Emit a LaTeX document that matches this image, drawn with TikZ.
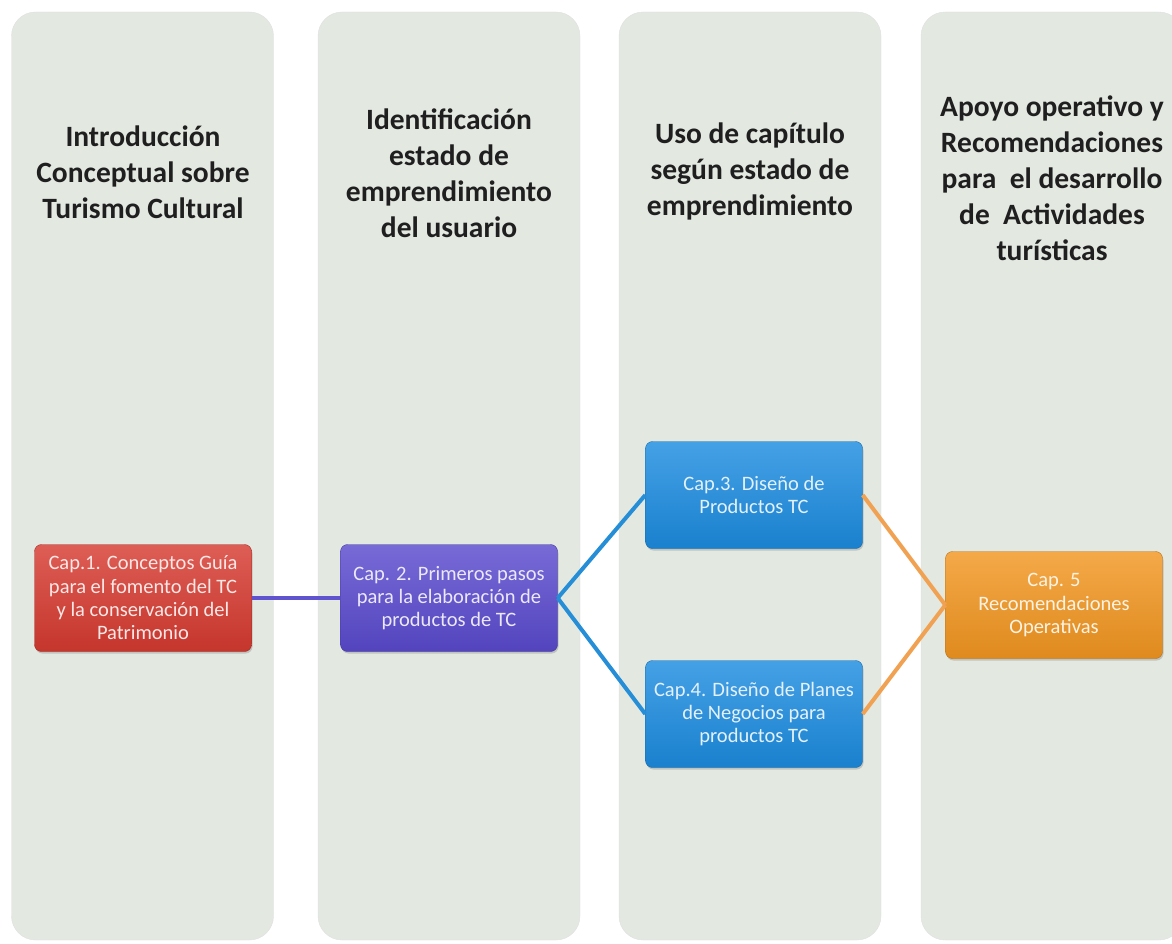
\documentclass[tikz,border=0pt]{standalone}
\usepackage{fontspec}
\setmainfont{Carlito}
\usetikzlibrary{shadows}

\definecolor{lanegray}{RGB}{227,232,225}
\definecolor{capred}{RGB}{214,58,48}
\definecolor{cappurple}{RGB}{90,74,206}
\definecolor{capblue}{RGB}{28,140,224}
\definecolor{caporange}{RGB}{242,150,32}
\definecolor{linkpurple}{RGB}{96,84,206}
\definecolor{linkblue}{RGB}{38,142,214}
\definecolor{linkorange}{RGB}{240,162,82}

\begin{document}
\begin{tikzpicture}
        [x=1pt,y=-1pt,
         lane/.style={rectangle,rounded corners=24pt,fill=lanegray,draw=black!12,
           minimum width=262pt,minimum height=928pt},
         lanetitle/.style={align=center,text=black!88,
           font=\bfseries\fontsize{29.5}{36}\selectfont},
         cap/.style={rectangle,rounded corners=7pt,minimum width=217pt,minimum height=107pt,
           align=center,text=#1!12!white,font=\fontsize{20.5}{23.3}\selectfont,
           draw=#1!75!black,top color=#1!82!white,bottom color=#1!92!black,
           drop shadow={shadow xshift=1pt,shadow yshift=-2pt,opacity=.35}},
         link/.style={line width=4pt,draw=#1}]
        \useasboundingbox (0,0) rectangle (1172,944);

        \foreach \i/\x in {1/142.5, 2/449, 3/750, 4/1052}
            \node[lane] (lane\i) at (\x,476) {};

        \node[lanetitle] (title1) at (143,172) {Introducción\\Conceptual sobre\\Turismo Cultural};
        \node[lanetitle] (title2) at (449,173) {Identificación\\estado de\\emprendimiento\\del usuario};
        \node[lanetitle] (title3) at (750,171) {Uso de capítulo\\según estado de\\emprendimiento};
        \node[lanetitle] (title4) at (1052,178) {Apoyo operativo y\\Recomendaciones\\para\ \ el desarrollo\\de\ \ Actividades\\turísticas};

        \node[cap=capred] (cap1) at (143,598) {Cap.1. Conceptos Guía\\para el fomento del TC\\y la conservación del\\Patrimonio};
        \node[cap=cappurple] (cap2) at (449,598) {Cap. 2. Primeros pasos\\para la elaboración de\\productos de TC};
        \node[cap=capblue] (cap3) at (754,495) {Cap.3. Diseño de\\Productos TC};
        \node[cap=capblue] (cap4) at (754,714) {Cap.4. Diseño de Planes\\de Negocios para\\productos TC};
        \node[cap=caporange] (cap5) at (1054,605) {Cap. 5\\Recomendaciones\\Operativas};

        \foreach \from/\to/\col in {cap1/cap2/linkpurple, cap2/cap3/linkblue, cap2/cap4/linkblue,
                                    cap3/cap5/linkorange, cap4/cap5/linkorange}
            \draw[link=\col] (\from.east) -- (\to.west);

      \end{tikzpicture}
\end{document}
